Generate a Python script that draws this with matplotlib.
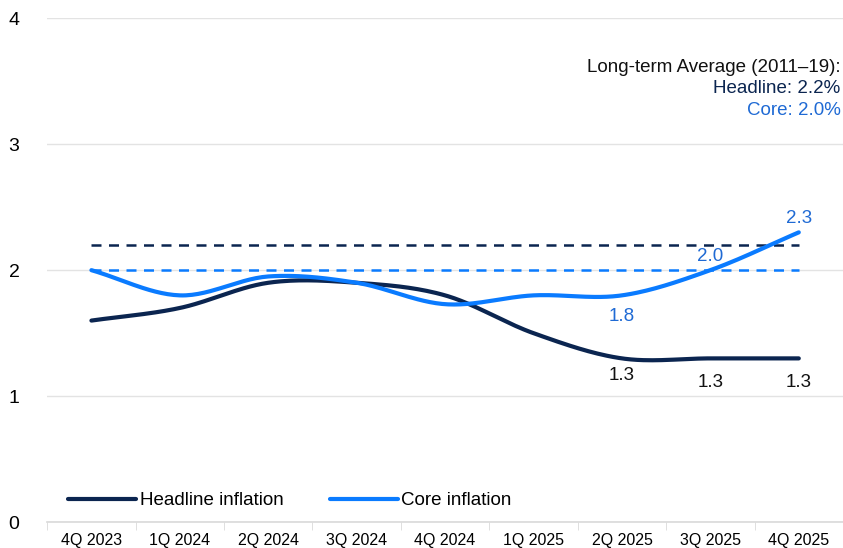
import numpy as np
import matplotlib.pyplot as plt

plt.rcParams["font.family"] = ["Liberation Sans", "DejaVu Sans"]

quarters = ["4Q 2023", "1Q 2024", "2Q 2024", "3Q 2024", "4Q 2024",
            "1Q 2025", "2Q 2025", "3Q 2025", "4Q 2025"]
headline = [1.6, 1.7, 1.9, 1.9, 1.8, 1.5, 1.3, 1.3, 1.3]
core = [2.0, 1.8, 1.95, 1.9, 1.73, 1.8, 1.8, 2.0, 2.3]
headline_avg = 2.2
core_avg = 2.0

NAVY = "#0b2550"
BLUE = "#0a7bff"
BLUE_TXT = "#1f6ad4"


def smooth(x, y, n=30, t=0.5):
    # cardinal spline through the points
    x = np.asarray(x, float)
    y = np.asarray(y, float)
    xs, ys = [], []
    for i in range(len(x) - 1):
        p0 = max(i - 1, 0)
        p3 = min(i + 2, len(x) - 1)
        m1 = t * (y[i + 1] - y[p0]) / (x[i + 1] - x[p0])
        m2 = t * (y[p3] - y[i]) / (x[p3] - x[i])
        h = x[i + 1] - x[i]
        s = np.linspace(0, 1, n)
        h00 = 2 * s**3 - 3 * s**2 + 1
        h10 = s**3 - 2 * s**2 + s
        h01 = -2 * s**3 + 3 * s**2
        h11 = s**3 - s**2
        xs.append(x[i] + s * h)
        ys.append(h00 * y[i] + h10 * h * m1 * 2 + h01 * y[i + 1] + h11 * h * m2 * 2)
    return np.concatenate(xs), np.concatenate(ys)


x = np.arange(len(quarters))

fig = plt.figure(figsize=(8.43, 5.48), dpi=100)
ax = fig.add_axes([0.056, 0.047, 0.944, 0.92])

ax.set_xlim(-0.5, len(quarters) - 0.5)
ax.set_ylim(0, 4)
ax.set_yticks([0, 1, 2, 3, 4])
ax.grid(axis="y", color="#e3e3e3", linewidth=1)
ax.set_axisbelow(True)
for s in ["top", "right", "left"]:
    ax.spines[s].set_visible(False)
ax.spines["bottom"].set_color("#d9d9d9")
ax.spines["bottom"].set_linewidth(1.2)

ax.set_xticks(x)
ax.set_xticklabels(quarters, fontsize=11.5)
ax.set_xticks(np.arange(-0.5, len(quarters), 1), minor=True)
ax.tick_params(axis="x", which="major", length=0, pad=8)
ax.tick_params(axis="x", which="minor", length=6, color="#d9d9d9")
ax.tick_params(axis="y", length=0, labelsize=14, pad=20)

ax.plot([x[0], x[-1]], [headline_avg, headline_avg], color=NAVY, lw=1.8, ls=(0, (4, 3)))
ax.plot([x[0], x[-1]], [core_avg, core_avg], color=BLUE, lw=1.8, ls=(0, (4, 3)))

hx, hy = smooth(x, headline)
cx, cy = smooth(x, core)
ax.plot(hx, hy, color=NAVY, lw=3, solid_capstyle="round", label="Headline inflation")
ax.plot(cx, cy, color=BLUE, lw=3, solid_capstyle="round", label="Core inflation")

for i in [6, 7, 8]:
    ax.text(x[i], headline[i] - 0.07 - (0.05 if i > 6 else 0), f"{headline[i]:.1f}",
            ha="center", va="top", fontsize=13.5, color="#111111")
ax.text(x[6], core[6] - 0.1, f"{core[6]:.1f}", ha="center", va="top", fontsize=13.5, color=BLUE_TXT)
for i in [7, 8]:
    ax.text(x[i], core[i] + 0.04, f"{core[i]:.1f}", ha="center", va="bottom",
            fontsize=13.5, color=BLUE_TXT)

fig.text(0.997, 0.877, "Long-term Average (2011\u201319):", ha="right", va="center",
         fontsize=13.5, color="#111111")
fig.text(0.997, 0.838, f"Headline: {headline_avg:.1f}%", ha="right", va="center",
         fontsize=13.5, color=NAVY)
fig.text(0.997, 0.799, f"Core: {core_avg:.1f}%", ha="right", va="center",
         fontsize=13.5, color=BLUE_TXT)

ax.legend(loc="lower left", bbox_to_anchor=(0.01, 0.0), ncol=2, frameon=False,
          fontsize=13.5, handlelength=3.6, handletextpad=0.2, columnspacing=2.5,
          borderaxespad=0.3)

fig.savefig("out.png", dpi=100)
